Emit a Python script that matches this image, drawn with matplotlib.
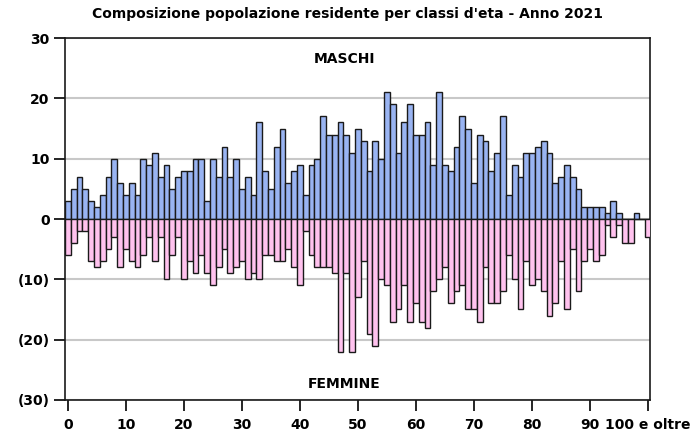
"""Piramide per eta (maschi/femmine) in PNG."""
import matplotlib

matplotlib.use("Agg")
import matplotlib.pyplot as plt  # noqa: E402
from matplotlib.ticker import FuncFormatter  # noqa: E402

ages = list(range(0, 101))
maschi = [3, 5, 7, 5, 3, 2, 4, 7, 10, 6,
          4, 6, 4, 10, 9, 11, 7, 9, 5, 7,
          8, 8, 10, 10, 3, 10, 7, 12, 7, 10,
          5, 7, 4, 16, 8, 5, 12, 15, 6, 8,
          9, 4, 9, 10, 17, 14, 14, 16, 14, 11,
          15, 13, 8, 13, 10, 21, 19, 11, 16, 19,
          14, 14, 16, 9, 21, 9, 8, 12, 17, 15,
          6, 14, 13, 8, 11, 17, 4, 9, 7, 11,
          11, 12, 13, 11, 6, 7, 9, 7, 5, 2,
          2, 2, 2, 1, 3, 1, 0, 0, 1, 0,
          0]
femmine = [-6, -4, -2, -2, -7, -8, -7, -5, -3, -8,
           -5, -7, -8, -6, -3, -7, -3, -10, -6, -3,
           -10, -7, -9, -6, -9, -11, -8, -5, -9, -8,
           -7, -10, -9, -10, -6, -6, -7, -7, -5, -8,
           -11, -2, -6, -8, -8, -8, -9, -22, -9, -22,
           -13, -7, -19, -21, -10, -11, -17, -15, -11, -17,
           -14, -17, -18, -12, -10, -8, -14, -12, -11, -15,
           -15, -17, -8, -14, -14, -12, -6, -10, -15, -7,
           -11, -10, -12, -16, -14, -7, -15, -5, -12, -7,
           -5, -7, -6, -1, -3, -1, -4, -4, 0, 0,
           -3]
xticks = [0, 10, 20, 30, 40, 50, 60, 70, 80, 90, 100]
xlabels = ["0", "10", "20", "30", "40", "50", "60", "70", "80", "90", "100 e oltre"]
yticks = [-30, -20, -10, 0, 10, 20, 30]

plt.rcParams["font.family"] = ["DejaVu Sans"]
plt.rcParams["font.weight"] = "bold"

fig = plt.figure(figsize=(6.96, 4.36), dpi=100)
ax = fig.add_axes([0.0934, 0.0826, 0.8406, 0.8302])

ax.bar(ages, maschi, width=1.0, color="#99b4f2", edgecolor="#1a1a1a", linewidth=1.0, zorder=3)
ax.bar(ages, femmine, width=1.0, color="#ffc2ee", edgecolor="#1a1a1a", linewidth=1.0, zorder=3)

ax.set_xlim(-0.5, 100.35)
ax.set_ylim(-30, 30)
ax.set_yticks(yticks)
ax.yaxis.set_major_formatter(FuncFormatter(lambda v, _: f"({abs(int(v))})" if v < 0 else f"{int(v)}"))
ax.set_xticks(xticks)
ax.set_xticklabels(xlabels)
ax.tick_params(axis="both", length=8, width=1.2, labelsize=10)
ax.tick_params(axis="x", pad=5)
ax.tick_params(axis="y", pad=3)
for lab in ax.get_xticklabels() + ax.get_yticklabels():
    lab.set_fontweight("bold")

ax.yaxis.grid(True, color="#c8c8c8", linewidth=1.5, zorder=0)
ax.set_axisbelow(True)
for s in ax.spines.values():
    s.set_linewidth(1.2)
    s.set_color("#1a1a1a")

ax.text(0.477, 0.942, "MASCHI", transform=ax.transAxes, ha="center", va="center",
        fontsize=10, fontweight="bold")
ax.text(0.477, 0.044, "FEMMINE", transform=ax.transAxes, ha="center", va="center",
        fontsize=10, fontweight="bold")
fig.text(0.5, 0.968, "Composizione popolazione residente per classi d'eta - Anno 2021",
         ha="center", va="center", fontsize=10, fontweight="bold")

fig.savefig("out.png", dpi=100)
plt.close(fig)
